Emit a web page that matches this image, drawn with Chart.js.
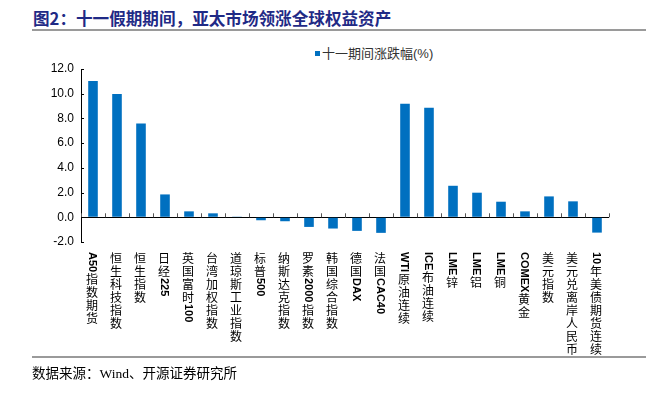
<!DOCTYPE html>
<html lang="zh">
<head>
<meta charset="UTF-8">
<title>十一假期期间，亚太市场领涨全球权益资产</title>
<script src="https://cdn.jsdelivr.net/npm/chart.js"></script>
<style>
    body { margin: 0; padding: 0; background: #fff; width: 667px; height: 398px; position: relative; overflow: hidden; }
    .title { position: absolute; left: 33px; top: 6px; font: bold 16.6px "Noto Sans CJK SC", sans-serif; color: #1f2a86; white-space: nowrap; }
    .rule { position: absolute; left: 32px; width: 614px; height: 2px; background: #9a9a9a; }
    .legend { position: absolute; left: 315px; top: 43px; font: 13px "Liberation Sans", "Noto Sans CJK SC", sans-serif; color: #333; white-space: nowrap; }
    .legend i { display: inline-block; width: 5px; height: 5px; background: #0070c0; margin-right: 2px; vertical-align: 2px; }
    .source { position: absolute; left: 32px; top: 362px; font: 13.5px "Liberation Serif", "Noto Sans CJK SC", serif; color: #000; white-space: nowrap; }
    #wrap { position: absolute; left: 0; top: 0; width: 667px; height: 398px; }
</style>
</head>
<body>
<div class="title">图2：十一假期期间，亚太市场领涨全球权益资产</div>
<div class="rule" style="top:29px"></div>
<div class="legend"><i></i>十一期间涨跌幅(%)</div>
<div id="wrap"><canvas id="chart"></canvas></div>
<div class="rule" style="top:356px"></div>
<div class="source">数据来源：Wind、开源证券研究所</div>
<script>
const categories = ['A50指数期货', '恒生科技指数', '恒生指数', '日经225', '英国富时100', '台湾加权指数',
    '道琼斯工业指数', '标普500', '纳斯达克指数', '罗素2000指数', '韩国综合指数', '德国DAX', '法国CAC40',
    'WTI原油连续', 'ICE布油连续', 'LME锌', 'LME铝', 'LME铜', 'COMEX黄金', '美元指数', '美元兑离岸人民币',
    '10年美债期货连续'];
const changes = [11.02, 9.97, 7.58, 1.85, 0.48, 0.32, 0.02, -0.24, -0.32, -0.78, -0.91, -1.1, -1.26,
    9.19, 8.87, 2.55, 1.99, 1.26, 0.48, 1.69, 1.29, -1.24];
const yTicks = [-2, 0, 2, 4, 6, 8, 10, 12];

// vertical category labels: CJK upright, latin runs turned sideways
const labelPlugin = {
    id: 'labels',
    afterDraw(chart) {
        const ctx = chart.ctx;
        const x = chart.scales.x, y = chart.scales.y;
        const zeroY = y.getPixelForValue(0);
        ctx.save();
        ctx.strokeStyle = '#555';
        ctx.lineWidth = 1;
        const step = (x.right - x.left) / categories.length;
        for (let i = 0; i <= categories.length; i++) {
            const px = Math.round(x.left + i * step) + 0.5;
            ctx.beginPath();
            ctx.moveTo(px, zeroY - 4);
            ctx.lineTo(px, zeroY);
            ctx.stroke();
        }
        ctx.strokeStyle = '#000';
        yTicks.forEach(v => {
            const py = Math.round(y.getPixelForValue(v)) + 0.5;
            ctx.beginPath();
            ctx.moveTo(x.left, py);
            ctx.lineTo(x.left + 3, py);
            ctx.stroke();
        });
        ctx.fillStyle = '#000';
        categories.forEach((label, i) => {
            const cx = x.getPixelForValue(i) - 1;
            let cy = 252;
            const runs = label.match(/[\x00-\x7f]+|[^\x00-\x7f]/g);
            runs.forEach(run => {
                if (/^[\x00-\x7f]+$/.test(run)) {
                    ctx.font = 'bold 11px "Liberation Sans", sans-serif';
                    ctx.save();
                    ctx.translate(cx, cy);
                    ctx.rotate(Math.PI / 2);
                    ctx.textAlign = 'left';
                    ctx.textBaseline = 'middle';
                    ctx.fillText(run, 0, 0);
                    ctx.restore();
                    cy += ctx.measureText(run).width + 1;
                } else {
                    ctx.font = '12px "Noto Sans CJK SC", sans-serif';
                    ctx.textAlign = 'center';
                    ctx.textBaseline = 'middle';
                    ctx.fillText(run, cx, cy + 6.5);
                    cy += 13;
                }
            });
        });
        ctx.restore();
    }
};

new Chart(document.getElementById('chart'), {
    type: 'bar',
    data: {
        labels: categories,
        datasets: [{
            label: '十一期间涨跌幅(%)',
            data: changes,
            backgroundColor: '#0070c0',
            barPercentage: 0.4,
            categoryPercentage: 1
        }]
    },
    options: {
        responsive: true,
        maintainAspectRatio: false,
        animation: false,
        layout: { padding: { left: 0, right: 58, top: 69, bottom: 148 } },
        plugins: { legend: { display: false }, tooltip: { enabled: false } },
        scales: {
            x: {
                ticks: { display: false },
                grid: { display: false },
                border: { display: false }
            },
            y: {
                min: -2,
                max: 12,
                afterFit: s => { s.width = 81; },
                afterBuildTicks: s => { s.ticks = yTicks.map(v => ({ value: v })); },
                ticks: {
                    padding: 7,
                    color: '#000',
                    font: { family: '"Liberation Sans", sans-serif', size: 12 },
                    callback: v => v.toFixed(1)
                },
                grid: {
                    drawTicks: false,
                    color: c => c.tick && c.tick.value === 0 ? '#000' : 'rgba(0,0,0,0)'
                },
                border: { color: '#000' }
            }
        }
    },
    plugins: [labelPlugin]
});
</script>
</body>
</html>
